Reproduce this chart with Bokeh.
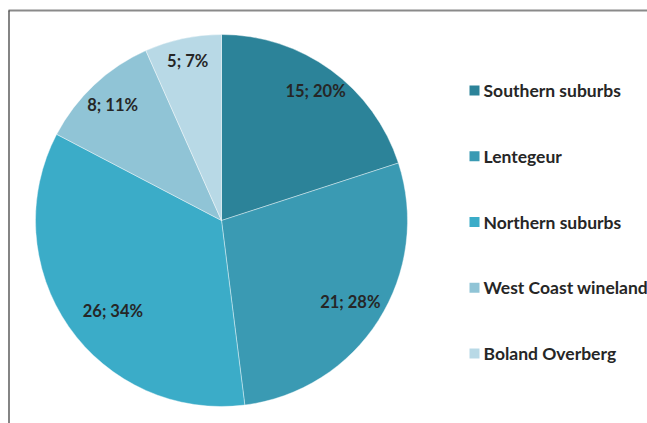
import math
from bokeh.plotting import figure
from bokeh.models import Range1d, ColumnDataSource
from bokeh.core.properties import value
from bokeh.embed import file_html
from bokeh.resources import INLINE

categories = ["Southern suburbs", "Lentegeur", "Northern suburbs", "West Coast wineland", "Boland Overberg"]
counts = [15, 21, 26, 8, 5]
pct_labels = ["20%", "28%", "34%", "11%", "7%"]
colors = ["#2C8399", "#3A9AB3", "#3BACC8", "#90C4D6", "#B8D9E6"]

# layout (pixel coordinates within the figure; y measured upward)
W, H = 647, 423
cx, cy, R = 221, 203, 186
label_r = [0.86, 0.82, 0.76, 0.855, 0.875]
label_da = [0, 0, 5, 0, 0]

total = sum(counts)
starts, ends, lx, ly, texts = [], [], [], [], []
cum = 0.0
for i, c in enumerate(counts):
    a0 = math.pi / 2 - 2 * math.pi * cum / total
    cum += c
    a1 = math.pi / 2 - 2 * math.pi * cum / total
    starts.append(a1)
    ends.append(a0)
    mid = (a0 + a1) / 2 + math.radians(label_da[i])
    lx.append(cx + label_r[i] * R * math.cos(mid))
    ly.append(cy + label_r[i] * R * math.sin(mid))
    texts.append(f"{c}; {pct_labels[i]}")

p = figure(width=W, height=H, output_backend="svg", toolbar_location=None,
           x_range=Range1d(0, W), y_range=Range1d(0, H), min_border=0)
p.axis.visible = False
p.grid.visible = False
p.outline_line_color = None
p.background_fill_color = "white"

src = ColumnDataSource(dict(start=starts, end=ends, color=colors, cat=categories))
p.wedge(x=cx, y=cy, radius=R, start_angle="start", end_angle="end",
        fill_color="color", line_color="white", line_width=0.4, source=src)

p.text(x=lx, y=ly, text=texts, text_align="center", text_baseline="middle",
       text_font=value("Lato"), text_font_style="bold", text_font_size="16.5px",
       text_color="#262626")

# legend
leg_y = [H - (90 + 65.75 * i) for i in range(len(categories))]
p.scatter(x=[474] * len(categories), y=leg_y, marker="square", size=10,
          fill_color=colors, line_color=None)
p.text(x=[483] * len(categories), y=leg_y, text=categories, text_align="left",
       text_baseline="middle", text_font=value("Lato"), text_font_style="bold",
       text_font_size="17.5px", text_color="#262626")

# frame lines
p.segment(x0=[8], y0=[H - 10], x1=[W], y1=[H - 10], line_color="#8a8a8a", line_width=2)
p.segment(x0=[8.5], y0=[H - 10], x1=[8.5], y1=[0], line_color="#333333", line_width=1.2)

open("out.html", "w").write(file_html(p, INLINE))
